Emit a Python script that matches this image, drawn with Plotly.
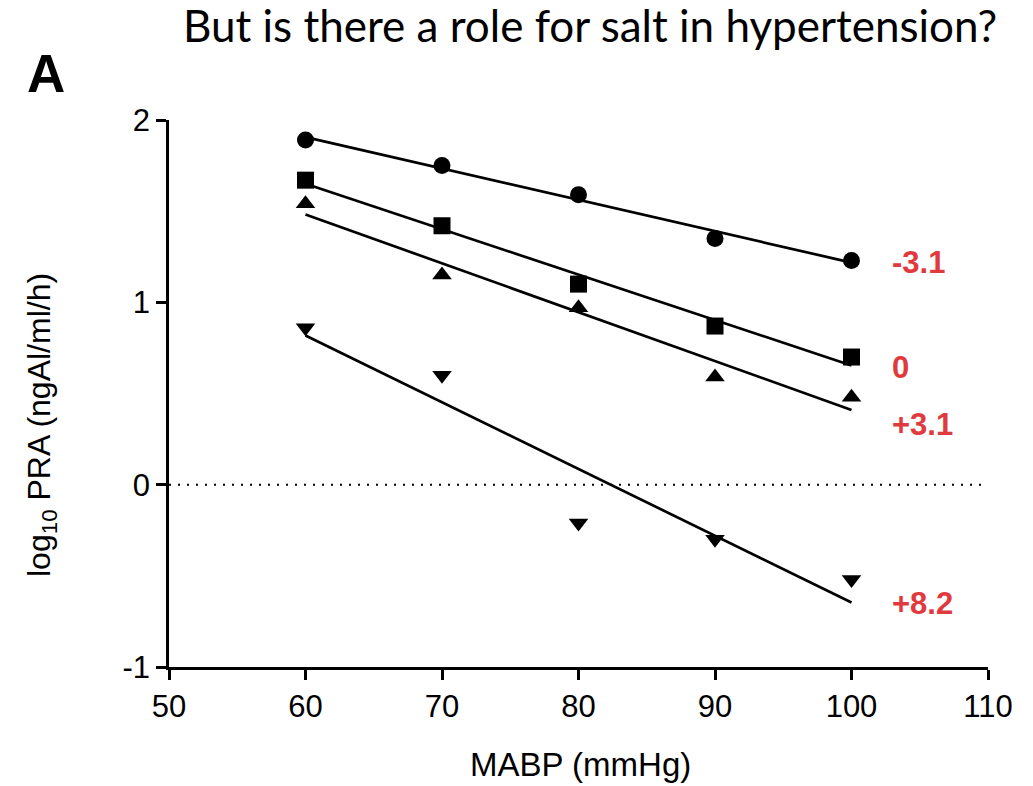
import numpy as np
import plotly.graph_objects as go

# Mean arterial blood pressure levels (mmHg)
mabp = [60, 70, 80, 90, 100]

# log10 plasma renin activity for each salt-balance group
pra_minus31 = [1.89, 1.75, 1.59, 1.35, 1.23]
pra_zero = [1.67, 1.42, 1.10, 0.87, 0.70]
pra_plus31 = [1.54, 1.15, 0.97, 0.59, 0.48]
pra_plus82 = [0.86, 0.60, -0.21, -0.30, -0.52]

group_labels = ["-3.1", "0", "+3.1", "+8.2"]
label_y = [1.22, 0.64, 0.33, -0.65]

x_ticks = [50, 60, 70, 80, 90, 100, 110]
y_ticks = [-1, 0, 1, 2]
y_tick_text = ["-1", "0", "1", "2"]

series = [
    (pra_minus31, "circle"),
    (pra_zero, "square"),
    (pra_plus31, "triangle-up"),
    (pra_plus82, "triangle-down"),
]

fig = go.Figure()

# Zero reference line
fig.add_shape(type="line", x0=50, x1=110, y0=0, y1=0, xref="x", yref="y",
              line=dict(color="black", width=2, dash="2px,7px"), layer="below")

x_arr = np.array(mabp, dtype=float)
for vals, sym in series:
    slope, intercept = np.polyfit(x_arr, np.array(vals), 1)
    fit_x = [mabp[0], mabp[-1]]
    fit_y = [slope * v + intercept for v in fit_x]
    fig.add_trace(go.Scatter(x=fit_x, y=fit_y, mode="lines",
                             line=dict(color="black", width=2.7),
                             showlegend=False, hoverinfo="skip"))
    fig.add_trace(go.Scatter(x=mabp, y=vals, mode="markers",
                             marker=dict(symbol=sym, size=17, color="black",
                                         line=dict(width=0)),
                             showlegend=False))

for txt, yv in zip(group_labels, label_y):
    fig.add_annotation(x=102.8, y=yv, xref="x", yref="y", text=txt,
                       showarrow=False, xanchor="left", yanchor="middle",
                       font=dict(family="Liberation Sans, Arial", size=31,
                                 color="#e0393e", weight="bold"))

# Slide heading and panel letter
fig.add_annotation(x=(590 - 169) / 819, y=(667 - 25) / 547, xref="paper", yref="paper",
                   text="But is there a role for salt in hypertension?",
                   showarrow=False, xanchor="center", yanchor="middle",
                   font=dict(family="Lato", size=44, color="black"))
fig.add_annotation(x=(46 - 169) / 819, y=(667 - 74) / 547, xref="paper", yref="paper",
                   text="<b>A</b>", showarrow=False, xanchor="center", yanchor="middle",
                   font=dict(family="Liberation Sans, Arial", size=53, color="black"))

# Axis titles
fig.add_annotation(x=(42 - 169) / 819, y=(667 - 425) / 547, xref="paper", yref="paper",
                   text="log<sub>10</sub> PRA (ngAl/ml/h)", textangle=-90,
                   showarrow=False, xanchor="center", yanchor="middle",
                   font=dict(family="Liberation Sans, Arial", size=32, color="black"))
fig.add_annotation(x=(580 - 169) / 819, y=(667 - 764) / 547, xref="paper", yref="paper",
                   text="MABP (mmHg)", showarrow=False, xanchor="center", yanchor="middle",
                   font=dict(family="Liberation Sans, Arial", size=33, color="black"))

axis_style = dict(showline=True, linecolor="black", linewidth=2.5,
                  ticks="outside", ticklen=10, tickwidth=2.5, tickcolor="black",
                  showgrid=False, zeroline=False,
                  tickfont=dict(family="Liberation Sans, Arial", size=31, color="black"))

fig.update_xaxes(range=[50, 110], tickvals=x_ticks, **axis_style)
fig.update_yaxes(range=[-1, 2], tickvals=y_ticks, ticktext=y_tick_text, **axis_style)

fig.update_layout(width=1033, height=786,
                  margin=dict(l=169, r=45, t=120, b=119),
                  plot_bgcolor="white", paper_bgcolor="white")

fig.write_html("out.html")
